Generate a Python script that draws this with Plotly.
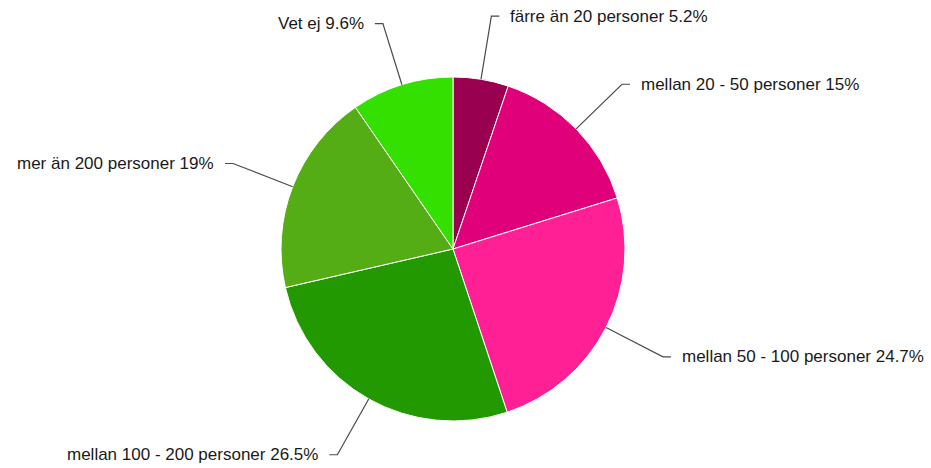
import math
import plotly.graph_objects as go

categories = ["färre än 20 personer", "mellan 20 - 50 personer", "mellan 50 - 100 personer",
              "mellan 100 - 200 personer", "mer än 200 personer", "Vet ej"]
values = [5.2, 15, 24.7, 26.5, 19, 9.6]
value_labels = ["5.2%", "15%", "24.7%", "26.5%", "19%", "9.6%"]
colors = ["#990050", "#e0007a", "#ff2096", "#229900", "#55ad16", "#33e000"]

W, H = 931, 468
cx, cy, R = 453, 249, 172
R_elbow = 236
tick = 8
gap = 9

def px(x):
    return x / W

def py(y):
    return 1 - y / H

fig = go.Figure(go.Pie(
    labels=categories, values=values, sort=False, direction="clockwise", rotation=0,
    marker=dict(colors=colors, line=dict(color="white", width=1)),
    textinfo="none", hoverinfo="label+percent", showlegend=False,
    domain=dict(x=[px(cx - R), px(cx + R)], y=[py(cy + R), py(cy - R)]),
))

total = sum(values)
cum = 0
shapes, annotations = [], []
for cat, v, lab in zip(categories, values, value_labels):
    mid = (cum + v / 2) / total * 2 * math.pi
    cum += v
    s, c = math.sin(mid), math.cos(mid)
    x0, y0 = cx + R * s, cy - R * c
    x1, y1 = cx + R_elbow * s, cy - R_elbow * c
    sign = 1 if s >= 0 else -1
    x2 = x1 + sign * tick
    path = f"M {px(x0)} {py(y0)} L {px(x1)} {py(y1)} L {px(x2)} {py(y1)}"
    shapes.append(dict(type="path", xref="paper", yref="paper", path=path,
                       line=dict(color="#4a4a4a", width=1.2)))
    annotations.append(dict(xref="paper", yref="paper", x=px(x2 + sign * gap), y=py(y1),
                            text=f"{cat} {lab}", showarrow=False,
                            xanchor="left" if sign > 0 else "right", yanchor="middle",
                            font=dict(family="Liberation Sans, Arial, sans-serif", size=17, color="#1a1a1a")))

fig.update_layout(
    width=W, height=H, margin=dict(l=0, r=0, t=0, b=0),
    paper_bgcolor="white", plot_bgcolor="white",
    shapes=shapes, annotations=annotations,
)
fig.write_html("out.html", config={"displayModeBar": False},
               post_script="document.body.style.margin='0';document.body.style.overflow='hidden';")
